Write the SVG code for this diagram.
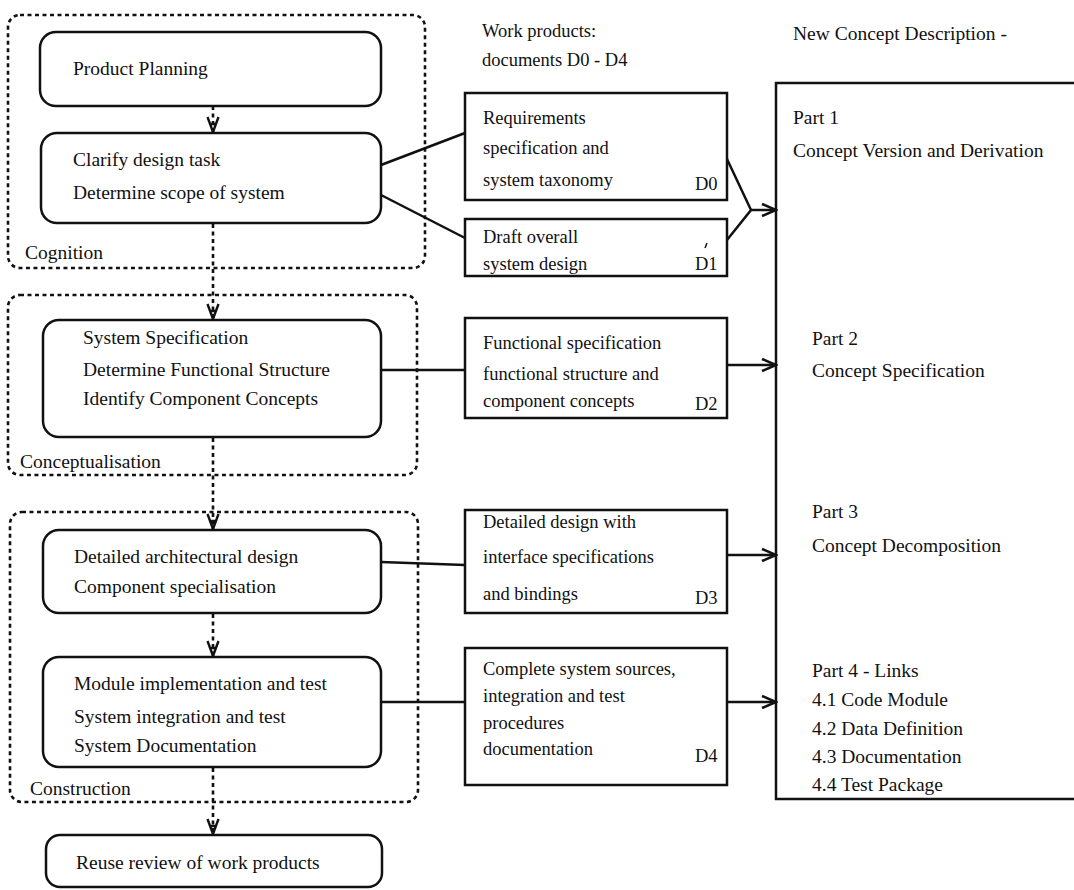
<svg xmlns="http://www.w3.org/2000/svg" width="1074" height="890" viewBox="0 0 1074 890">
  <style>
    text { font-family: "Liberation Serif", "Times New Roman", serif; font-size: 19.5px; fill: #111; }
    .doc-text { font-size: 18.5px; }
    .proc { fill: #fff; stroke: #111; stroke-width: 2.5; }
    .doc { fill: #fff; stroke: #111; stroke-width: 2.5; }
    .phase { fill: none; stroke: #111; stroke-width: 2.6; stroke-dasharray: 4 3.5; }
    .flow { fill: none; stroke: #111; stroke-width: 2.6; stroke-dasharray: 4 3.5; }
    .link { fill: none; stroke: #111; stroke-width: 2.5; }
  </style>
  <defs>
    <marker id="open" markerUnits="userSpaceOnUse" viewBox="0 0 18 16" markerWidth="18" markerHeight="16" refX="16" refY="8" orient="auto">
      <path d="M2,2 L16,8 L2,14" fill="none" stroke="#111" stroke-width="2.5"/>
    </marker>
    <marker id="fall" markerUnits="userSpaceOnUse" viewBox="0 0 16 20" markerWidth="16" markerHeight="20" refX="8" refY="19" orient="0">
      <path d="M2.5,3 L8,18 L13.5,3 M4.5,10 L11.5,10" fill="none" stroke="#111" stroke-width="2.4"/>
    </marker>
  </defs>

  <!-- phase groupings -->
  <g id="phase-cognition">
    <rect class="phase" x="8" y="15" width="417" height="253" rx="12"/>
    <text x="25" y="259">Cognition</text>
  </g>
  <g id="phase-conceptualisation">
    <rect class="phase" x="8" y="295" width="409" height="180" rx="12"/>
    <text x="20" y="468">Conceptualisation</text>
  </g>
  <g id="phase-construction">
    <rect class="phase" x="10" y="512" width="408" height="290" rx="12"/>
    <text x="30" y="795">Construction</text>
  </g>

  <!-- process steps -->
  <g id="product-planning">
    <rect class="proc" x="40" y="32" width="341" height="74" rx="16"/>
    <text x="73" y="75">Product Planning</text>
  </g>
  <g id="clarify-task">
    <rect class="proc" x="41" y="133" width="340" height="90" rx="16"/>
    <text x="73" y="166">Clarify design task</text>
    <text x="73" y="199">Determine scope of system</text>
  </g>
  <g id="system-specification">
    <rect class="proc" x="43" y="320" width="338" height="117" rx="16"/>
    <text x="83" y="344">System Specification</text>
    <text x="83" y="376">Determine Functional Structure</text>
    <text x="83" y="405">Identify Component Concepts</text>
  </g>
  <g id="detailed-design">
    <rect class="proc" x="43" y="530" width="338" height="83" rx="16"/>
    <text x="74" y="563">Detailed  architectural design</text>
    <text x="74" y="593">Component specialisation</text>
  </g>
  <g id="implementation">
    <rect class="proc" x="43" y="657" width="338" height="110" rx="16"/>
    <text x="74" y="690">Module implementation and test</text>
    <text x="74" y="723">System integration and test</text>
    <text x="74" y="752">System Documentation</text>
  </g>
  <g id="reuse-review">
    <rect class="proc" x="46" y="835" width="336" height="52" rx="14"/>
    <text x="76" y="869">Reuse review of work products</text>
  </g>

  <!-- work product documents -->
  <g id="work-products-heading">
    <text class="doc-text" x="482" y="37">Work products:</text>
    <text class="doc-text" x="482" y="66">documents D0 - D4</text>
  </g>
  <g id="doc-d0">
    <rect class="doc" x="465" y="93" width="262" height="107"/>
    <text class="doc-text" x="483" y="124">Requirements</text>
    <text class="doc-text" x="483" y="154">specification and</text>
    <text class="doc-text" x="483" y="186">system taxonomy</text>
    <text class="doc-text" x="695" y="190">D0</text>
  </g>
  <g id="doc-d1">
    <rect class="doc" x="465" y="219" width="262" height="57"/>
    <text class="doc-text" x="483" y="243">Draft overall</text>
    <text class="doc-text" x="483" y="270">system design</text>
    <text class="doc-text" x="695" y="270">D1</text>
    <path d="M707,243 L705,248" fill="none" stroke="#111" stroke-width="1.5"/>
  </g>
  <g id="doc-d2">
    <rect class="doc" x="465" y="318" width="262" height="100"/>
    <text class="doc-text" x="483" y="349">Functional specification</text>
    <text class="doc-text" x="483" y="380">functional structure and</text>
    <text class="doc-text" x="483" y="407">component concepts</text>
    <text class="doc-text" x="695" y="410">D2</text>
  </g>
  <g id="doc-d3">
    <rect class="doc" x="465" y="510" width="262" height="103"/>
    <text class="doc-text" x="483" y="528">Detailed design with</text>
    <text class="doc-text" x="483" y="563">interface specifications</text>
    <text class="doc-text" x="483" y="600">and bindings</text>
    <text class="doc-text" x="695" y="604">D3</text>
  </g>
  <g id="doc-d4">
    <rect class="doc" x="465" y="648" width="262" height="137"/>
    <text class="doc-text" x="483" y="675">Complete system sources,</text>
    <text class="doc-text" x="483" y="702">integration and test</text>
    <text class="doc-text" x="483" y="729">procedures</text>
    <text class="doc-text" x="483" y="755">documentation</text>
    <text class="doc-text" x="695" y="762">D4</text>
  </g>

  <!-- concept description -->
  <g id="concept-description">
    <text x="793" y="40">New Concept Description -</text>
    <rect class="doc" x="776" y="83" width="320" height="716"/>
    <text x="793" y="124">Part 1</text>
    <text x="793" y="157">Concept Version and Derivation</text>
    <text x="812" y="345">Part 2</text>
    <text x="812" y="377">Concept Specification</text>
    <text x="812" y="518">Part 3</text>
    <text x="812" y="552">Concept Decomposition</text>
    <text x="812" y="677">Part 4 - Links</text>
    <text x="812" y="706">4.1 Code Module</text>
    <text x="812" y="735">4.2 Data Definition</text>
    <text x="812" y="763">4.3 Documentation</text>
    <text x="812" y="791">4.4 Test Package</text>
  </g>

  <!-- connectors -->
  <g id="connectors">
    <path class="flow" d="M213,106 V133" marker-end="url(#fall)"/>
    <path class="flow" d="M213,224 V320" marker-end="url(#fall)"/>
    <path class="flow" d="M213,438 V530" marker-end="url(#fall)"/>
    <path class="flow" d="M213,614 V657" marker-end="url(#fall)"/>
    <path class="flow" d="M213,768 V835" marker-end="url(#fall)"/>

    <path class="link" d="M381,165 L465,133"/>
    <path class="link" d="M381,195 L465,238"/>
    <path class="link" d="M727,159 L751,210 L727,240"/>
    <path class="link" d="M751,210 H776" marker-end="url(#open)"/>

    <path class="link" d="M381,370 H465"/>
    <path class="link" d="M727,365 H776" marker-end="url(#open)"/>

    <path class="link" d="M381,562 L465,565"/>
    <path class="link" d="M727,555 H776" marker-end="url(#open)"/>

    <path class="link" d="M381,702 H465"/>
    <path class="link" d="M727,702 H776" marker-end="url(#open)"/>
  </g>
</svg>
